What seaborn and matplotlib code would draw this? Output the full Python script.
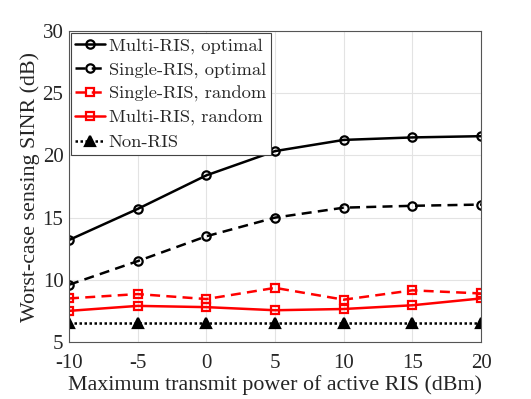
import numpy as np
import pandas as pd
import seaborn as sns
import matplotlib.pyplot as plt

power = [-10, -5, 0, 5, 10, 15, 20]
multi_opt = [13.2, 15.7, 18.4, 20.35, 21.25, 21.45, 21.55]
single_opt = [9.6, 11.5, 13.5, 15.0, 15.8, 15.95, 16.05]
single_rand = [8.5, 8.85, 8.45, 9.35, 8.4, 9.15, 8.9]
multi_rand = [7.5, 7.9, 7.8, 7.55, 7.65, 7.95, 8.5]
non_ris = [6.5, 6.5, 6.5, 6.5, 6.5, 6.5, 6.5]

xtick_labels = ['-10', '-5', '0', '5', '10', '15', '20']
ytick_labels = ['5', '10', '15', '20', '25', '30']

sns.set_style('whitegrid')
plt.rcParams['font.family'] = ['Liberation Serif', 'DejaVu Serif']
plt.rcParams['mathtext.fontset'] = 'cm'

df = pd.DataFrame({'power': power,
                   'Multi-RIS, optimal': multi_opt,
                   'Single-RIS, optimal': single_opt,
                   'Single-RIS, random': single_rand,
                   'Multi-RIS, random': multi_rand,
                   'Non-RIS': non_ris})

# stile per ogni curva
styles = {
    'Multi-RIS, optimal': dict(color='black', ls='-', marker='o', mfc='none', ms=6),
    'Single-RIS, optimal': dict(color='black', ls=(0, (4, 2.5)), marker='o', mfc='none', ms=6),
    'Single-RIS, random': dict(color='red', ls=(0, (4, 2.5)), marker='s', mfc='none', ms=5.5),
    'Multi-RIS, random': dict(color='red', ls='-', marker='s', mfc='none', ms=5.5),
    'Non-RIS': dict(color='black', ls=(0, (1, 1)), marker='^', mfc='black', ms=6.5),
}

fig = plt.figure(figsize=(5.31, 3.99), dpi=100)
ax = fig.add_axes([0.130, 0.143, 0.776, 0.779])

for name, st in styles.items():
    sns.lineplot(data=df, x='power', y=name, ax=ax, legend=False,
                 color=st['color'], linestyle=st['ls'], marker=st['marker'],
                 markerfacecolor=st['mfc'], markeredgecolor=st['color'],
                 markeredgewidth=1.6, markersize=st['ms'], linewidth=1.8)

ax.set_xlim(-10, 20)
ax.set_ylim(5, 30)
ax.set_xticks(power)
ax.set_xticklabels(xtick_labels)
ax.set_yticks([5, 10, 15, 20, 25, 30])
ax.set_yticklabels(ytick_labels)
ax.tick_params(labelsize=15, direction='in', length=4, color='#555555')
ax.tick_params(axis='x', pad=9)
ax.tick_params(axis='y', pad=4)
ax.grid(True, color='#e3e3e3', linewidth=0.8)
for s in ax.spines.values():
    s.set_color('#555555')
    s.set_linewidth(0.8)

ax.set_xlabel('Maximum transmit power of active RIS (dBm)', fontsize=15.8, labelpad=1)
ax.set_ylabel('Worst-case sensing SINR (dB)', fontsize=15.8, labelpad=2)

leg = ax.legend(handles=ax.get_lines()[:5], labels=list(styles.keys()),
                loc='upper left', prop={'family': 'cmr10', 'size': 13.3},
                handlelength=1.6, handletextpad=0.2, borderpad=0.25,
                labelspacing=0.42, borderaxespad=0.1, frameon=True,
                fancybox=False, edgecolor='#444444', framealpha=1)
leg.get_frame().set_linewidth(0.8)

fig.savefig('out.png', dpi=100)
